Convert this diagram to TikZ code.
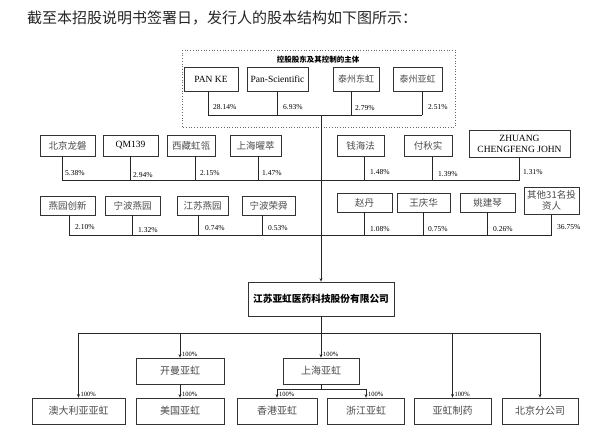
\documentclass[tikz,border=0pt]{standalone}
\usepackage{fontspec}
\setmainfont{Liberation Serif}
\newfontfamily\cjk{Noto Sans CJK SC}
\usetikzlibrary{arrows.meta}
\newcommand\stemto[3]{\draw[ln] ([xshift=#2]#1.south) -- ([xshift=#2]#1.south |- #3);}
\begin{document}
\begin{tikzpicture}[x=1pt,y=-1pt,
  bx/.style={draw=black!80, line width=0.8pt, inner sep=0pt, align=center},
  zh/.style={font=\cjk\fontsize{9}{11}\selectfont, text=black!70},
  zhb/.style={font=\cjk\fontsize{10}{12}\selectfont, text=black!70},
  en/.style={font=\fontsize{9.5}{10.5}\selectfont},
  pct/.style={font=\fontsize{7.5}{8}\selectfont, anchor=west, inner sep=0pt},
  sm/.style={font=\fontsize{6.5}{7}\selectfont, anchor=south west, inner sep=0.5pt},
  ln/.style={line width=0.8pt, draw=black!85},
  arr/.style={ln, -{Stealth[length=3.5pt,width=3pt]}}]
\useasboundingbox[fill=white] (0,0) rectangle (596,437);

% title
\node[anchor=west, inner sep=0pt, font=\cjk\fontsize{15}{17}\selectfont, text=black!85] (title) at (27,18) {截至本招股说明书签署日，发行人的股本结构如下图所示：};

% dotted group
\draw[dotted, black!60, line width=0.7pt] (182,50) rectangle (455,127);
\node[font=\cjk\bfseries\fontsize{7.5}{8}\selectfont, inner sep=0pt] (hdr) at (318,60) {控股股东及其控制的主体};

% helper coordinates
\coordinate (h1) at (0,115);
\coordinate (h2) at (0,180);
\coordinate (h3) at (0,235);
\coordinate (bus) at (0,333);
\coordinate (sb) at (0,389);

% row 1
\node[bx,en,minimum width=54pt,minimum height=24pt] (pk) at (211,79) {PAN KE};
\node[bx,en,minimum width=61pt,minimum height=24pt] (ps) at (277.5,79) {Pan-Scientific};
\node[bx,zh,minimum width=46pt,minimum height=24pt] (dh) at (356,79) {泰州东虹};
\node[bx,zh,minimum width=49pt,minimum height=24pt] (yh) at (417.5,79) {泰州亚虹};

% row 2
\node[bx,zh,font=\cjk\fontsize{9.5}{11}\selectfont,minimum width=55pt,minimum height=21pt] (lp) at (67.5,145.5) {北京龙磐};
\node[bx,en,minimum width=55pt,minimum height=21pt] (qm) at (130.5,145.5) {QM139};
\node[bx,zh,font=\cjk\fontsize{9.5}{11}\selectfont,minimum width=48pt,minimum height=21pt] (xz) at (191,145.5) {西藏虹瓴};
\node[bx,zh,font=\cjk\fontsize{9.5}{11}\selectfont,minimum width=51pt,minimum height=21pt] (sy) at (255.5,145.5) {上海曜萃};
\node[bx,zh,font=\cjk\fontsize{9.5}{11}\selectfont,minimum width=47pt,minimum height=21pt] (qh) at (360.5,146) {钱海法};
\node[bx,zh,font=\cjk\fontsize{9.5}{11}\selectfont,minimum width=48pt,minimum height=21pt] (fq) at (428,146) {付秋实};
\node[bx,font=\fontsize{9.5}{11}\selectfont,minimum width=101pt,minimum height=27pt] (zj) at (519.5,143.5) {ZHUANG\\CHENGFENG JOHN};

% row 3
\node[bx,zh,font=\cjk\fontsize{9.5}{11}\selectfont,minimum width=55pt,minimum height=19pt] (yc) at (67.5,205.5) {燕园创新};
\node[bx,zh,font=\cjk\fontsize{9.5}{11}\selectfont,minimum width=55pt,minimum height=19pt] (ny) at (132.5,205.5) {宁波燕园};
\node[bx,zh,font=\cjk\fontsize{9.5}{11}\selectfont,minimum width=51pt,minimum height=19pt] (jy) at (202.5,205.5) {江苏燕园};
\node[bx,zh,font=\cjk\fontsize{9.5}{11}\selectfont,minimum width=53pt,minimum height=19pt] (nr) at (268.5,205.5) {宁波荣舜};
\node[bx,zh,font=\cjk\fontsize{9.5}{11}\selectfont,minimum width=55pt,minimum height=19pt] (zd) at (364.5,202.5) {赵丹};
\node[bx,zh,font=\cjk\fontsize{9.5}{11}\selectfont,minimum width=53pt,minimum height=19pt] (wq) at (423.5,202.5) {王庆华};
\node[bx,zh,font=\cjk\fontsize{9.5}{11}\selectfont,minimum width=55pt,minimum height=19pt] (yj) at (487.5,202.5) {姚建琴};
\node[bx,zh,font=\cjk\fontsize{9.5}{11.5}\selectfont,minimum width=55pt,minimum height=27pt] (qt) at (551.5,200.5) {其他31名投\\资人};

% company
\node[bx,font=\cjk\bfseries\fontsize{9.7}{11}\selectfont,minimum width=146pt,minimum height=34pt] (co) at (321,299) {江苏亚虹医药科技股份有限公司};

% subsidiaries
\node[bx,zhb,minimum width=88pt,minimum height=26pt] (km) at (180,371) {开曼亚虹};
\node[bx,zhb,minimum width=76pt,minimum height=26pt] (sh) at (321,371) {上海亚虹};
\node[bx,zhb,minimum width=93pt,minimum height=26pt] (au) at (78.5,411) {澳大利亚亚虹};
\node[bx,zhb,minimum width=88pt,minimum height=26pt] (mg) at (180,411) {美国亚虹};
\node[bx,zhb,minimum width=80pt,minimum height=26pt] (hk) at (277,411) {香港亚虹};
\node[bx,zhb,minimum width=77pt,minimum height=26pt] (zjh) at (366,411) {浙江亚虹};
\node[bx,zhb,minimum width=77pt,minimum height=26pt] (yz) at (452.5,411) {亚虹制药};
\node[bx,zhb,minimum width=76pt,minimum height=26pt] (bf) at (540,411) {北京分公司};

% row 1 connectors
\stemto{pk}{-3pt}{h1}
\stemto{ps}{0pt}{h1}
\stemto{dh}{-5pt}{h1}
\stemto{yh}{4.5pt}{h1}
\draw[ln] ([xshift=-3pt]pk.south |- h1) -- ([xshift=4.5pt]yh.south |- h1);

% row 2 connectors
\stemto{lp}{-5.5pt}{h2}
\stemto{qm}{0pt}{h2}
\stemto{xz}{4pt}{h2}
\stemto{sy}{2.5pt}{h2}
\stemto{qh}{3.5pt}{h2}
\stemto{fq}{4pt}{h2}
\stemto{zj}{0pt}{h2}
\draw[ln] ([xshift=-5.5pt]lp.south |- h2) -- (zj.south |- h2);

% row 3 connectors
\stemto{yc}{1.5pt}{h3}
\stemto{ny}{0pt}{h3}
\stemto{jy}{-4.5pt}{h3}
\stemto{nr}{-6.5pt}{h3}
\stemto{zd}{0pt}{h3}
\stemto{wq}{0pt}{h3}
\stemto{yj}{0pt}{h3}
\stemto{qt}{0pt}{h3}
\draw[ln] ([xshift=1.5pt]yc.south |- h3) -- (qt.south |- h3);

% main trunk
\draw[arr] (co.north |- h1) -- (co.north);

% percentages
\node[pct] (p1) at (213,107) {28.14\%};
\node[pct] (p2) at (283,107) {6.93\%};
\node[pct] (p3) at (355,108) {2.79\%};
\node[pct] (p4) at (428,107) {2.51\%};
\node[pct] (p5) at (65,173) {5.38\%};
\node[pct] (p6) at (133,175) {2.94\%};
\node[pct] (p7) at (200,173) {2.15\%};
\node[pct] (p8) at (262,173) {1.47\%};
\node[pct] (p9) at (370,172) {1.48\%};
\node[pct] (p10) at (438,174) {1.39\%};
\node[pct] (p11) at (523,172) {1.31\%};
\node[pct] (p12) at (75,227) {2.10\%};
\node[pct] (p13) at (138,230) {1.32\%};
\node[pct] (p14) at (205,228) {0.74\%};
\node[pct] (p15) at (268,228) {0.53\%};
\node[pct] (p16) at (370,229) {1.08\%};
\node[pct] (p17) at (428,229) {0.75\%};
\node[pct] (p18) at (493,229) {0.26\%};
\node[pct] (p19) at (557,227) {36.75\%};

% subsidiary connectors
\draw[ln] (co.south) -- (co.south |- bus);
\draw[ln] (au.north |- bus) -- (bf.north |- bus);
\draw[arr] (au.north |- bus) -- (au.north);
\draw[arr] (km.north |- bus) -- (km.north);
\draw[arr] (sh.north |- bus) -- (sh.north);
\draw[arr] (yz.north |- bus) -- (yz.north);
\draw[arr] (bf.north |- bus) -- (bf.north);
\draw[arr] (km.south) -- (mg.north);
\draw[ln] (sh.south) -- (sh.south |- sb);
\draw[ln] (hk.north |- sb) -- (zjh.north |- sb);
\draw[arr] (hk.north |- sb) -- (hk.north);
\draw[arr] (zjh.north |- sb) -- (zjh.north);

% 100% labels
\node[sm] (l1) at ([xshift=1.5pt]au.north) {100\%};
\node[sm] (l2) at ([xshift=1.5pt]km.north) {100\%};
\node[sm] (l3) at ([xshift=1.5pt]mg.north) {100\%};
\node[sm] (l4) at ([xshift=1.5pt]sh.north) {100\%};
\node[sm] (l5) at ([xshift=1.5pt]hk.north) {100\%};
\node[sm] (l6) at ([xshift=1.5pt]zjh.north) {100\%};
\node[sm] (l7) at ([xshift=1.5pt]yz.north) {100\%};
\end{tikzpicture}
\end{document}
